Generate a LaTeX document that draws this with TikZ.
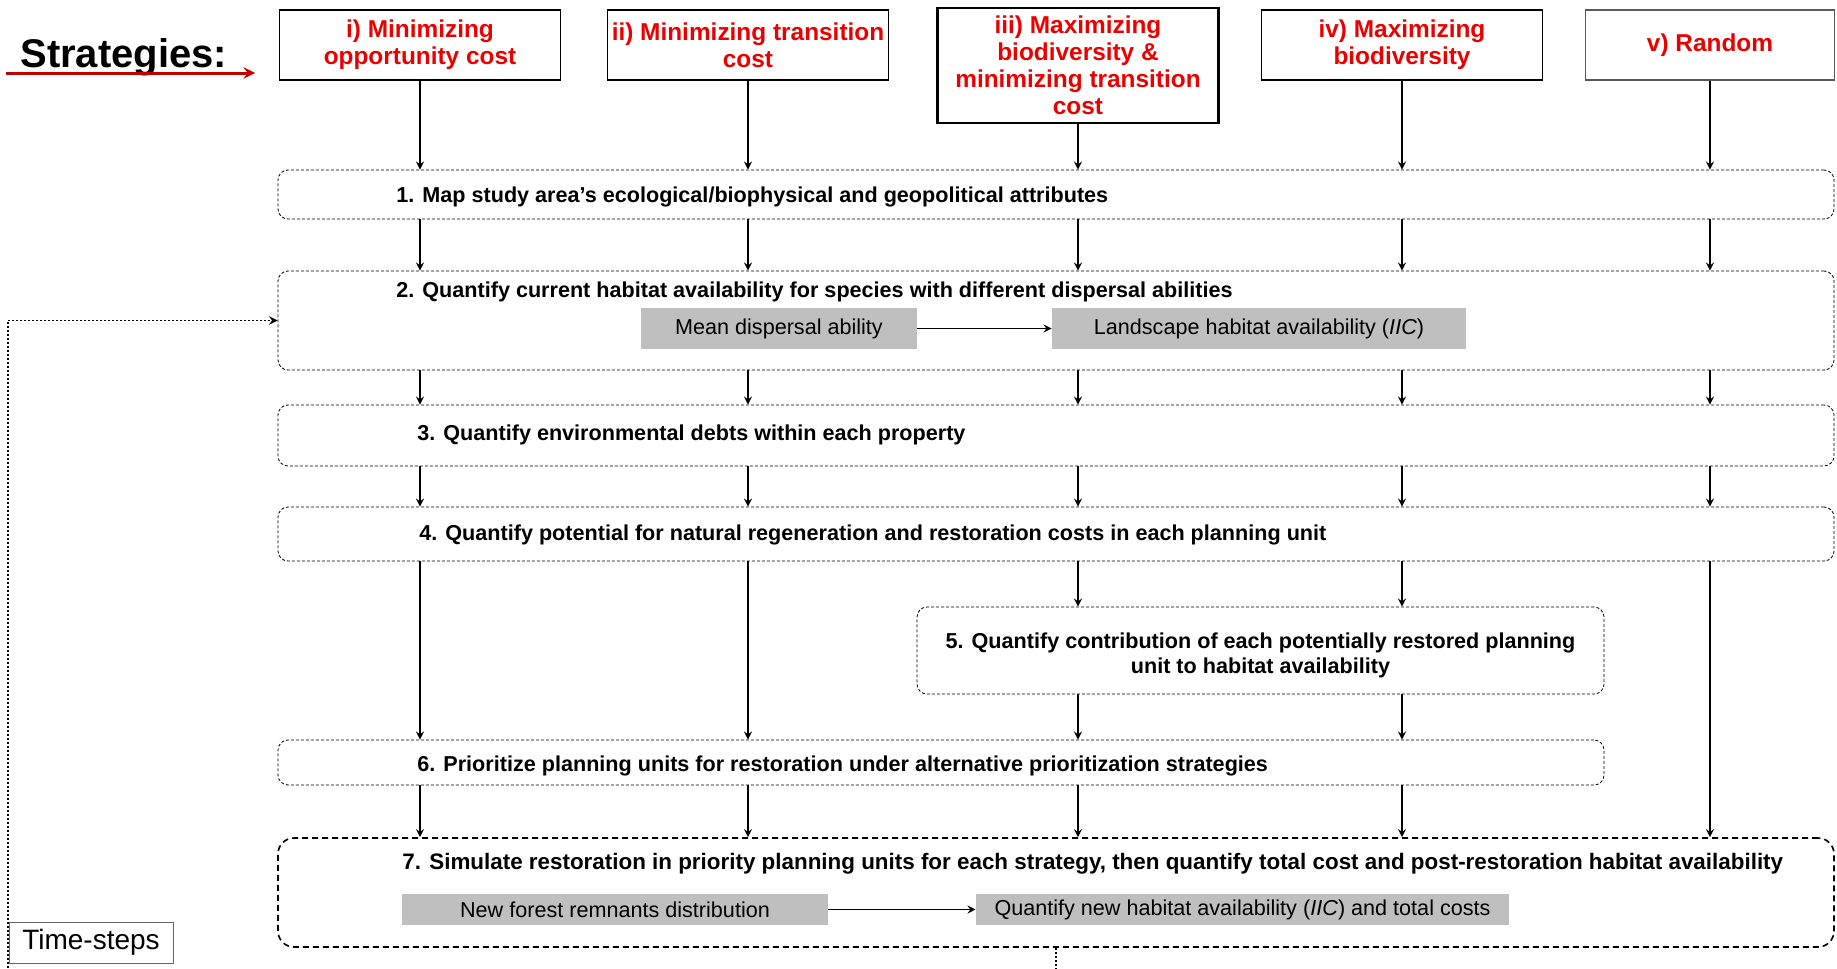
\documentclass[tikz,border=0pt]{standalone}
\usepackage{fontspec}
\setmainfont{Liberation Sans}
\usetikzlibrary{positioning}
\definecolor{headred}{RGB}{235,0,0}
\definecolor{darkred}{RGB}{192,0,0}
\definecolor{boxgray}{RGB}{191,191,191}

\begin{document}
\begin{tikzpicture}[x=0.5pt,y=-0.5pt]
\useasboundingbox (0,0) rectangle (1837,969);
% Define styles
\tikzstyle{strategy}=[rectangle, draw, line width=0.9pt, minimum width=140.5pt, minimum height=35pt, align=center, text=headred, font=\fontsize{12.2}{13.5}\selectfont\bfseries, inner sep=0pt]
\tikzstyle{stepbox}=[rectangle, draw, rounded corners=5pt, line width=0.4pt, dash pattern=on 1.5pt off 1pt, minimum width=778pt, inner sep=0pt]
\tikzstyle{steptext}=[anchor=west, inner sep=0pt, font=\fontsize{10.8}{12.5}\selectfont\bfseries]
\tikzstyle{graybox}=[rectangle, fill=boxgray, inner sep=0pt, font=\fontsize{10.8}{12}\selectfont]
\tikzstyle{arrow}=[thick,->,>=stealth]
\tikzstyle{timeloop}=[line width=0.9pt, dash pattern=on 1pt off 1pt, ->, >=stealth]
% Place nodes
\node[anchor=west, inner sep=0pt, font=\fontsize{20}{22}\selectfont\bfseries] (title) at (20,57) {Strategies:};
\coordinate (redstart) at (6,73);
\coordinate (redend) at (255,73);
\node[strategy] (h1) at (420,45) {i) Minimizing\\opportunity cost};
\node[strategy] (h2) at (748,45) {ii) Minimizing transition\\cost};
\node[strategy, line width=1.3pt, minimum height=57.5pt] (h3) at (1078,65.5) {iii) Maximizing\\biodiversity \&\\minimizing transition\\cost};
\node[strategy] (h4) at (1402,45) {iv) Maximizing\\biodiversity};
\node[strategy, draw=black!65, minimum width=124.5pt] (h5) at (1710,45) {v) Random};

\node[stepbox, minimum height=24.5pt] (s1) at (1056,194.5) {};
\node[stepbox, minimum height=49.5pt] (s2) at (1056,320.5) {};
\node[stepbox, minimum height=30.5pt] (s3) at (1056,435.5) {};
\node[stepbox, minimum height=27pt] (s4) at (1056,534) {};
\node[stepbox, minimum width=343.5pt, minimum height=43.5pt] (s5) at (1260.5,650.5) {};
\node[stepbox, minimum width=663pt, minimum height=22.5pt] (s6) at (941,762.5) {};
\node[stepbox, line width=0.8pt, dash pattern=on 3pt off 2pt, rounded corners=8pt, minimum height=54.5pt] (s7) at (1056,892.5) {};

\node[steptext] (t1) at (396,197) {1. Map study area’s ecological/biophysical and geopolitical attributes};
\node[steptext] (t2) at (396,292) {2. Quantify current habitat availability for species with different dispersal abilities};
\node[steptext] (t3) at (417,435) {3. Quantify environmental debts within each property};
\node[steptext] (t4) at (419,535) {4. Quantify potential for natural regeneration and restoration costs in each planning unit};
\node[steptext, anchor=center, align=center] (t5) at (1260.5,655) {5. Quantify contribution of each potentially restored planning\\unit to habitat availability};
\node[steptext] (t6) at (417,766) {6. Prioritize planning units for restoration under alternative prioritization strategies};
\node[steptext, font=\fontsize{11.2}{13}\selectfont\bfseries] (t7) at (402,864) {7. Simulate restoration in priority planning units for each strategy, then quantify total cost and post-restoration habitat availability};

\node[graybox, minimum width=138pt, minimum height=20.5pt] (g1) at (779,328.5) {Mean dispersal ability};
\node[graybox, minimum width=207pt, minimum height=20.5pt] (g2) at (1259,328.5) {Landscape habitat availability (\textit{IIC})};
\node[graybox, minimum width=213pt, minimum height=15.5pt] (g3) at (615,909.5) {New forest remnants distribution};
\node[graybox, minimum width=266.5pt, minimum height=15.5pt] (g4) at (1242.5,909.5) {Quantify new habitat availability (\textit{IIC}) and total costs};

\node[rectangle, draw=black!60, line width=0.4pt, minimum width=82pt, minimum height=20.5pt, inner sep=0pt, font=\fontsize{14}{16}\selectfont] (steps) at (91,942.5) {Time-steps};
\coordinate (loopb) at (1056,976);
\coordinate (loopc) at (8,976);
% Draw arrows
\draw[line width=1.5pt, darkred, ->, >=stealth] (redstart) -- (redend);
\draw[arrow] (h1) -- (h1 |- s1.north); \draw[arrow] (h2) -- (h2 |- s1.north); \draw[arrow] (h3) -- (h3 |- s1.north); \draw[arrow] (h4) -- (h4 |- s1.north); \draw[arrow] (h5) -- (h5 |- s1.north);
\draw[arrow] (h1 |- s1.south) -- (h1 |- s2.north); \draw[arrow] (h2 |- s1.south) -- (h2 |- s2.north); \draw[arrow] (h3 |- s1.south) -- (h3 |- s2.north); \draw[arrow] (h4 |- s1.south) -- (h4 |- s2.north); \draw[arrow] (h5 |- s1.south) -- (h5 |- s2.north);
\draw[arrow] (h1 |- s2.south) -- (h1 |- s3.north); \draw[arrow] (h2 |- s2.south) -- (h2 |- s3.north); \draw[arrow] (h3 |- s2.south) -- (h3 |- s3.north); \draw[arrow] (h4 |- s2.south) -- (h4 |- s3.north); \draw[arrow] (h5 |- s2.south) -- (h5 |- s3.north);
\draw[arrow] (h1 |- s3.south) -- (h1 |- s4.north); \draw[arrow] (h2 |- s3.south) -- (h2 |- s4.north); \draw[arrow] (h3 |- s3.south) -- (h3 |- s4.north); \draw[arrow] (h4 |- s3.south) -- (h4 |- s4.north); \draw[arrow] (h5 |- s3.south) -- (h5 |- s4.north);
\draw[arrow] (h1 |- s4.south) -- (h1 |- s6.north); \draw[arrow] (h2 |- s4.south) -- (h2 |- s6.north); \draw[arrow] (h3 |- s4.south) -- (h3 |- s5.north); \draw[arrow] (h4 |- s4.south) -- (h4 |- s5.north); \draw[arrow] (h5 |- s4.south) -- (h5 |- s7.north);
\draw[arrow] (h3 |- s5.south) -- (h3 |- s6.north); \draw[arrow] (h4 |- s5.south) -- (h4 |- s6.north);
\draw[arrow] (h1 |- s6.south) -- (h1 |- s7.north); \draw[arrow] (h2 |- s6.south) -- (h2 |- s7.north); \draw[arrow] (h3 |- s6.south) -- (h3 |- s7.north); \draw[arrow] (h4 |- s6.south) -- (h4 |- s7.north);
\draw[arrow] (g1) -- (g2);
\draw[arrow] (g3) -- (g4);
\draw[timeloop] (s7.south) -- (loopb) -- (loopc) |- (s2.west);
\end{tikzpicture}
\end{document}
